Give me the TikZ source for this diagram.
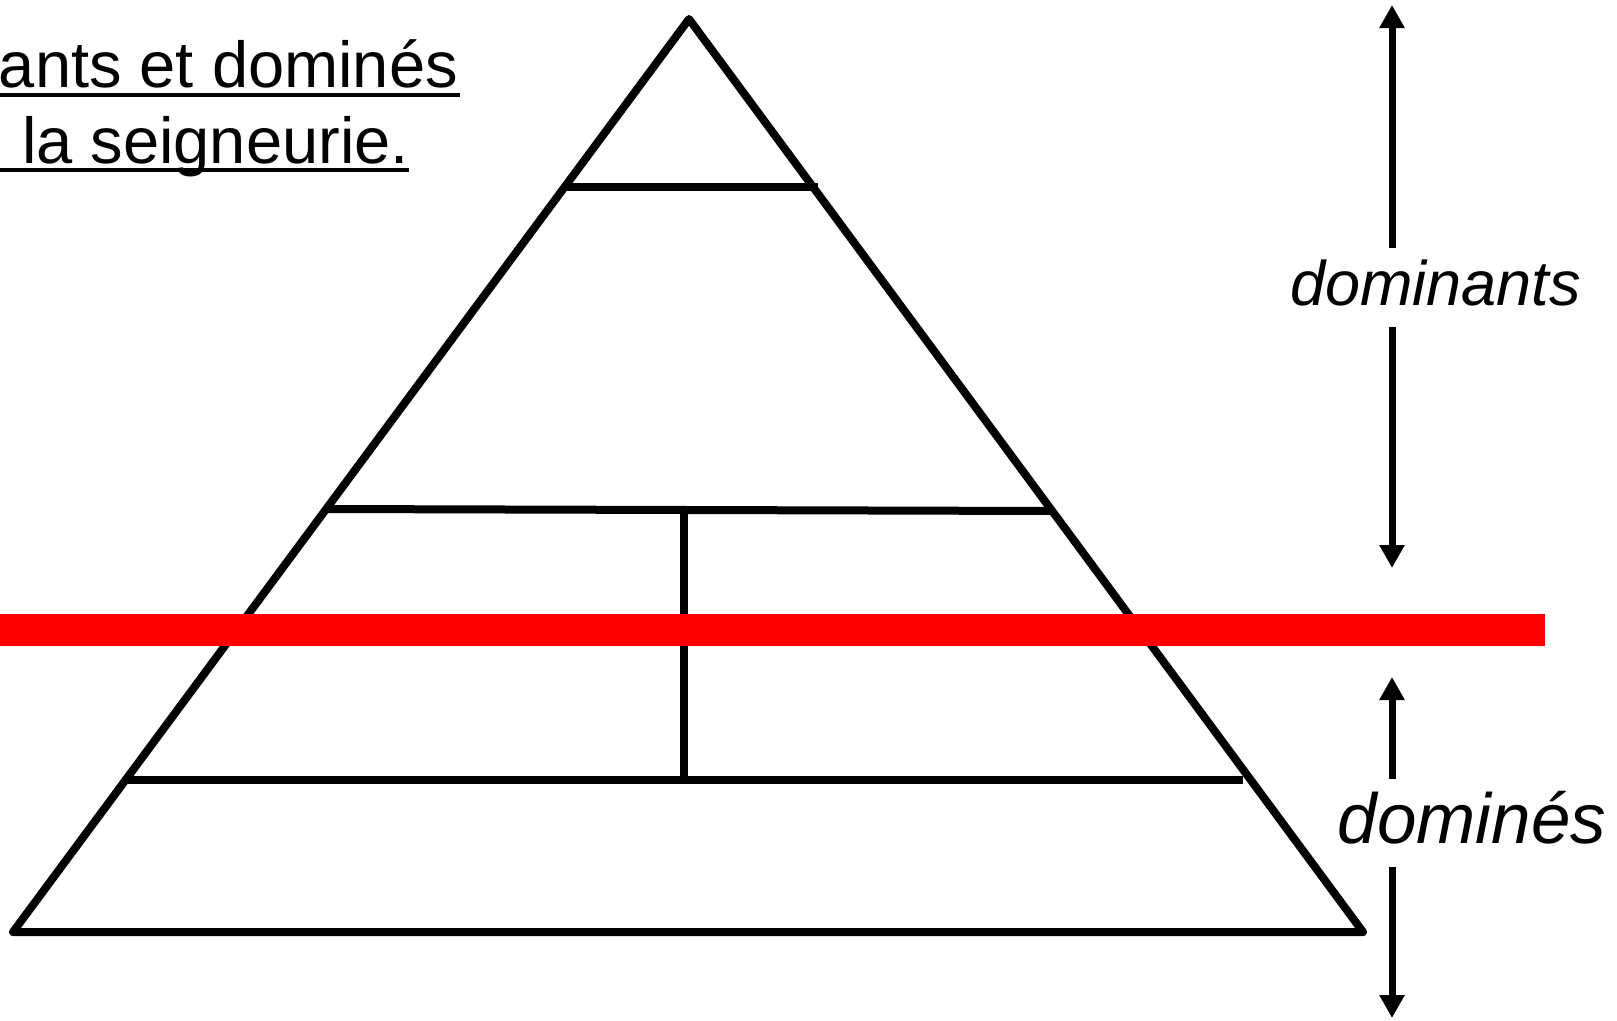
\documentclass[tikz,border=0pt]{standalone}
\usepackage{fontspec}
\setmainfont{Liberation Sans}
\usetikzlibrary{arrows.meta}
\tikzset{
  pyr/.style={line width=8pt, line join=round, black},
  sep/.style={line width=8pt, black},
  redline/.style={line width=32pt, red},
  dblarrow/.style={line width=7pt, {Triangle[length=23pt,width=24pt]}-{Triangle[length=23pt,width=24pt]}},
  lbl/.style={fill=white, inner sep=0pt, anchor=base, font=\itshape},
  title/.style={inner sep=0pt, anchor=base east, font=\fontsize{65}{78}\selectfont},
  uline/.style={line width=4pt, black}
}
\begin{document}
\begin{tikzpicture}[x=1pt,y=-1pt]
\useasboundingbox (0,0) rectangle (1617,1020);
\clip (0,0) rectangle (1617,1020);
\fill[white] (0,0) rectangle (1617,1020);
% title box
\fill[white] (0,18) rectangle (477,185);
\node[title] (t1) at (458,87) {ants et dominés};
\node[title] (t2) at (409,163) {la seigneurie.};
\coordinate (u1a) at (0,95); \coordinate (u1b) at (460,95);
\coordinate (u2a) at (0,170); \coordinate (u2b) at (409,170);
\draw[uline] (u1a) -- (u1b);
\draw[uline] (u2a) -- (u2b);
% pyramid
\coordinate (apex) at (689,19);
\coordinate (bl) at (13,932);
\coordinate (br) at (1363,932);
\draw[pyr] (apex) -- (bl) -- (br) -- cycle;
\coordinate (l1a) at (565,187); \coordinate (l1b) at (818,187);
\coordinate (l2a) at (326,509); \coordinate (l2b) at (1052,511);
\coordinate (l3a) at (127,780); \coordinate (l3b) at (1243,780);
\coordinate (va) at (684,510); \coordinate (vb) at (684,780);
\draw[sep] (l1a) -- (l1b);
\draw[sep] (l2a) -- (l2b);
\draw[sep] (l3a) -- (l3b);
\draw[sep] (va) -- (vb);
% red line
\coordinate (ra) at (0,630); \coordinate (rb) at (1545,630);
\draw[redline] (ra) -- (rb);
% arrows
\coordinate (a1t) at (1392,5); \coordinate (a1b) at (1392,568);
\coordinate (a2t) at (1392,677); \coordinate (a2b) at (1392,1018);
\draw[dblarrow] (a1b) -- (a1t);
\draw[dblarrow] (a2t) -- (a2b);
\node[lbl, font=\itshape\fontsize{63}{70}\selectfont, minimum width=325pt, text height=57pt, text depth=22pt] (dom) at (1435.5,305) {dominants};
\node[lbl, font=\itshape\fontsize{71}{80}\selectfont, minimum width=294pt, text height=64pt, text depth=24pt] (domd) at (1472,843) {dominés};
\end{tikzpicture}
\end{document}
